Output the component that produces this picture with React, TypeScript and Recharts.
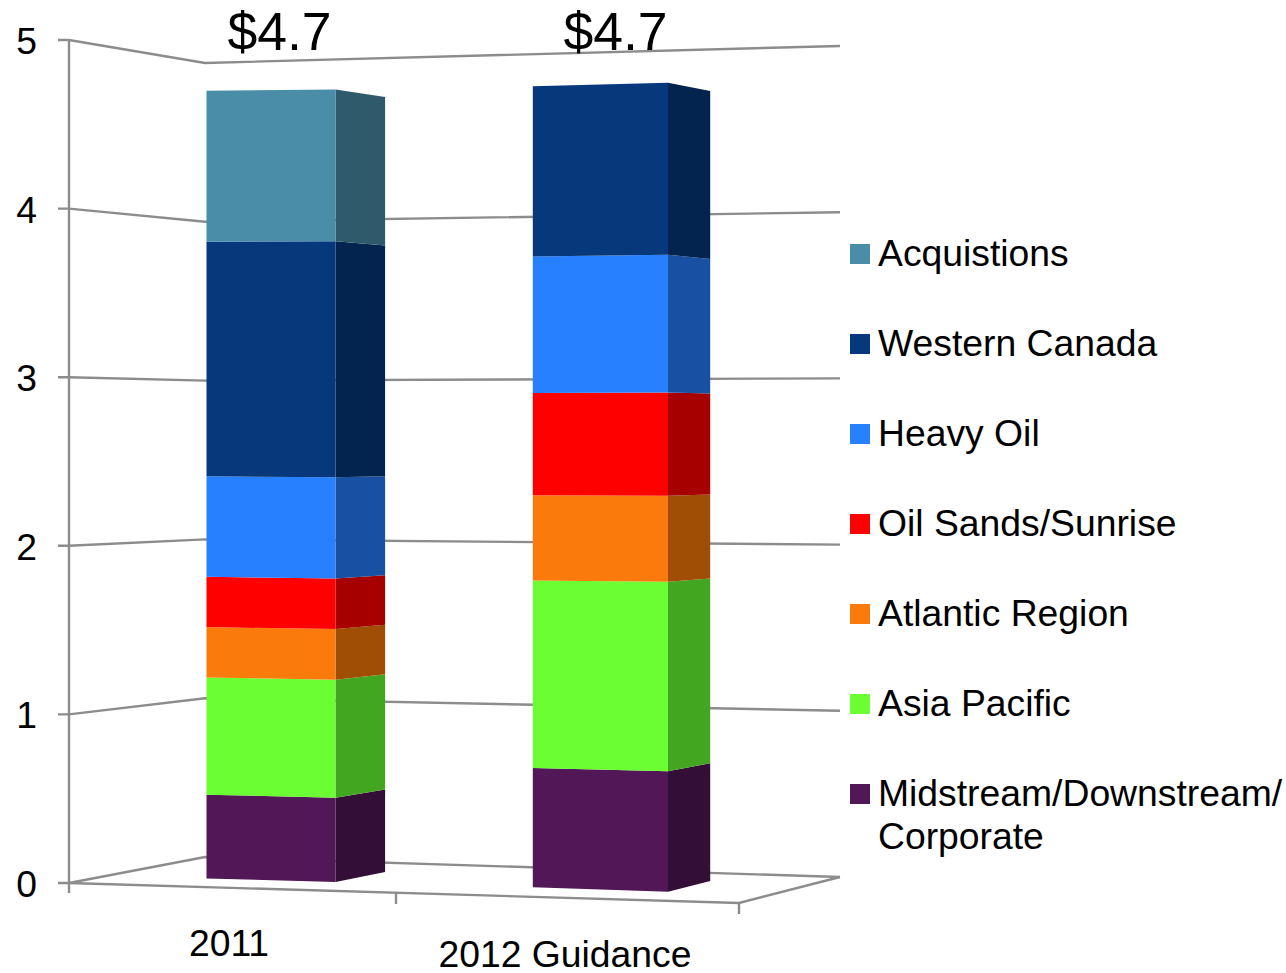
import { BarChart, Bar, XAxis, YAxis, CartesianGrid, Legend, LabelList } from "recharts"

const years = ["2011", "2012 Guidance"]
const totals = ["$4.7", "$4.7"]
const yTicks = [0, 1, 2, 3, 4, 5]

const midstream = [0.5, 0.7]
const asiaPacific = [0.7, 1.1]
const atlantic = [0.3, 0.5]
const oilSands = [0.3, 0.6]
const heavyOil = [0.6, 0.8]
const westernCanada = [1.4, 1.0]
const acquisitions = [0.9, 0]

const tableData = years.map((year, i) => ({
  year,
  total: totals[i],
  midstream: midstream[i],
  asiaPacific: asiaPacific[i],
  atlantic: atlantic[i],
  oilSands: oilSands[i],
  heavyOil: heavyOil[i],
  westernCanada: westernCanada[i],
  acquisitions: acquisitions[i],
}))

// bottom to top, the way they stack
const SERIES = [
  { key: "midstream", name: "Midstream/Downstream/ Corporate", front: "#521757", side: "#330E37" },
  { key: "asiaPacific", name: "Asia Pacific", front: "#6BFF33", side: "#42A621" },
  { key: "atlantic", name: "Atlantic Region", front: "#FB7A0C", side: "#A04E06" },
  { key: "oilSands", name: "Oil Sands/Sunrise", front: "#FF0000", side: "#A60000" },
  { key: "heavyOil", name: "Heavy Oil", front: "#2680FF", side: "#1850A3" },
  { key: "westernCanada", name: "Western Canada", front: "#08387C", side: "#02244F" },
  { key: "acquisitions", name: "Acquistions", front: "#4A8DA8", side: "#2F5A6B" },
]

const FONT = "'Liberation Sans', Arial, sans-serif"
const GRID = "#8C8C8C"
const FLOOR_Y = 883
const WALL_X = 69

// fake 3D: each bar edge is the value scale shifted and stretched a little
const PERSPECTIVE: Record<string, any> = {
  "2011": {
    dx: 36.5, frontW: 129, depth: 49.6, labelDx: 45,
    left: [878.5, 0.994], right: [882, 1.0], back: [872, 0.978],
  },
  "2012 Guidance": {
    dx: 32.8, frontW: 135.2, depth: 42.2, labelDx: 51,
    left: [887.3, 1.011], right: [891.7, 1.021], back: [881, 0.997],
  },
}

const edgeY = (edge: number[], y: number) => edge[0] + (y - FLOOR_Y) * edge[1]

const Prism = (props: any) => {
  const { x, y, height, payload, fill, side } = props
  if (!height) return null
  const p = PERSPECTIVE[payload.year]
  const bottom = y + height
  const x0 = x + p.dx
  const x1 = x0 + p.frontW
  const x2 = x1 + p.depth
  return (
    <g>
      <polygon
        points={`${x1},${edgeY(p.right, y)} ${x2},${edgeY(p.back, y)} ${x2},${edgeY(p.back, bottom)} ${x1},${edgeY(p.right, bottom)}`}
        fill={side}
      />
      <polygon
        points={`${x0},${edgeY(p.left, y)} ${x1},${edgeY(p.right, y)} ${x1},${edgeY(p.right, bottom)} ${x0},${edgeY(p.left, bottom)}`}
        fill={fill}
      />
    </g>
  )
}

// wall line for one value: left wall, then the back wall
const WallLine = (props: any) => {
  const y = props.y1
  const backY = 857 + (y - FLOOR_Y) * 0.9419
  const rightY = 877 + (y - FLOOR_Y) * 0.9858
  const isFloor = Math.abs(y - FLOOR_Y) < 0.5
  const line = { fill: "none", stroke: GRID, strokeWidth: 2.4 }
  return (
    <g>
      <polyline points={`58,${y} ${WALL_X},${y} 205,${backY} 840,${rightY}`} {...line} />
      {isFloor && (
        <g>
          <polyline points={`${WALL_X},${y} 739,903 840,${rightY}`} {...line} />
          <line x1={WALL_X} y1={y} x2={WALL_X} y2={893} {...line} />
          <line x1={396} y1={893} x2={396} y2={904} {...line} />
          <line x1={739} y1={903} x2={739} y2={914} {...line} />
        </g>
      )}
    </g>
  )
}

const YTick = ({ y, payload }: any) => (
  <text x={37} y={y + 14} textAnchor="end" fontSize={37.3} fontFamily={FONT} fill="#000">
    {payload.value}
  </text>
)

const XTick = ({ x, payload, index }: any) => (
  <text
    x={x + (index === 0 ? -5 : 1)}
    y={index === 0 ? 956 : 967}
    textAnchor="middle"
    fontSize={37.3}
    fontFamily={FONT}
    fill="#000"
  >
    {payload.value}
  </text>
)

const TotalLabel = ({ x, y, width, value, index }: any) => {
  const p = PERSPECTIVE[years[index]]
  return (
    <text
      x={x + width / 2 + p.labelDx}
      y={y - 41}
      textAnchor="middle"
      fontSize={53.5}
      fontFamily={FONT}
      fill="#000"
    >
      {value}
    </text>
  )
}

const LegendBox = () => (
  <div style={{ fontFamily: FONT, fontSize: 37.3, lineHeight: "43px", color: "#000" }}>
    {[...SERIES].reverse().map((s) => (
      <div key={s.key} style={{ height: 90, display: "flex", width: 436 }}>
        <div
          style={{
            width: 20,
            height: 20,
            marginTop: 12,
            marginRight: 8,
            flexShrink: 0,
            background: s.front,
          }}
        />
        <div style={{ width: 408 }}>{s.name}</div>
      </div>
    ))}
  </div>
)

export default function App() {
  return (
    <div style={{ position: "absolute", left: 0, top: 0, width: 1286, height: 973, background: "#fff" }}>
      <BarChart
        width={1286}
        height={973}
        data={tableData}
        margin={{ top: 40, right: 557, bottom: 0, left: 0 }}
        barSize={129}
      >
        <CartesianGrid
          vertical={false}
          horizontalValues={yTicks}
          horizontal={(props: any) => <WallLine key={props.key ?? props.y1} {...props} />}
        />
        <XAxis dataKey="year" height={90} axisLine={false} tickLine={false} tick={<XTick />} interval={0} />
        <YAxis
          width={69}
          domain={[0, 5]}
          ticks={yTicks}
          stroke={GRID}
          strokeWidth={2.4}
          tickLine={false}
          tick={<YTick />}
        />
        <Legend
          layout="vertical"
          align="center"
          verticalAlign="middle"
          content={<LegendBox />}
          wrapperStyle={{ left: 850, top: 232, width: 436, margin: 0 }}
        />
        {SERIES.map((s) => (
          <Bar
            key={s.key}
            dataKey={s.key}
            name={s.name}
            stackId="capex"
            fill={s.front}
            isAnimationActive={false}
            shape={(props: any) => <Prism {...props} side={s.side} />}
          >
            {s.key === "acquisitions" && <LabelList dataKey="total" content={<TotalLabel />} />}
          </Bar>
        ))}
      </BarChart>
    </div>
  )
}
